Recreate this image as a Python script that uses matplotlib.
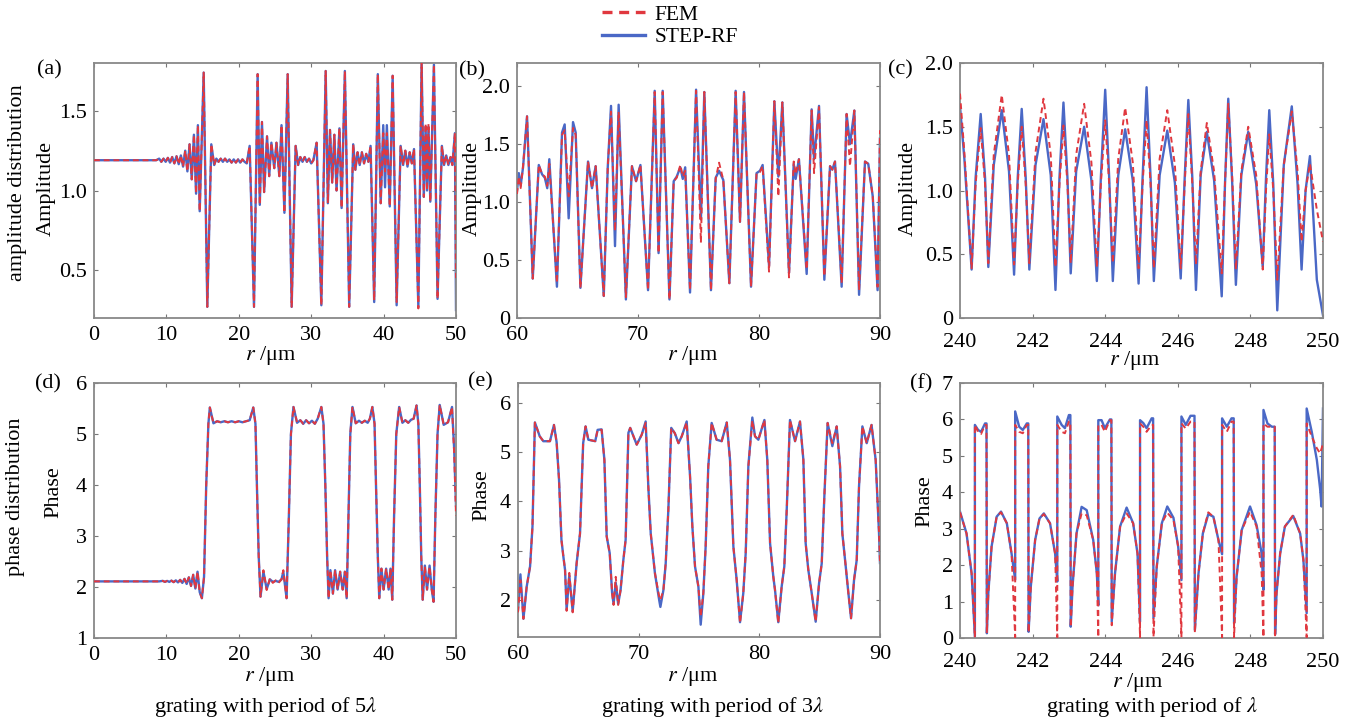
import matplotlib
matplotlib.use("Agg")
import matplotlib.pyplot as plt
from matplotlib.lines import Line2D

plt.rcParams["font.family"] = ["Liberation Serif", "DejaVu Serif"]
plt.rcParams["mathtext.fontset"] = "stix"

# --- data (r in um) ---
# (a) amplitude, grating period 5 lambda
a_r = [0.0, 8.6, 9.0, 9.3, 9.6, 9.9, 10.2, 10.5, 10.8, 11.1,
       11.4, 11.7, 12.0, 12.3, 12.6, 12.9, 13.2, 13.5, 13.8, 14.1,
       14.35, 14.6, 15.15, 15.65, 16.2, 16.6, 16.9, 17.2, 17.5, 17.8,
       18.1, 18.4, 18.7, 19.0, 19.3, 19.6, 19.9, 20.2, 20.5, 20.8,
       21.1, 21.5, 22.1, 22.6, 22.9, 23.2, 23.5, 23.9, 24.2, 24.5,
       24.9, 25.2, 25.6, 25.9, 26.3, 26.75, 27.3, 27.85, 28.2, 28.5,
       28.8, 29.1, 29.4, 29.7, 30.0, 30.3, 30.75, 31.4, 32.0, 32.3,
       32.6, 32.9, 33.2, 33.5, 33.9, 34.2, 34.65, 35.25, 35.8, 36.1,
       36.4, 36.7, 37.0, 37.3, 37.6, 37.9, 38.2, 38.7, 39.2, 39.6,
       39.95, 40.2, 40.45, 40.85, 41.25, 41.8, 42.35, 42.7, 43.0, 43.3,
       43.6, 43.9, 44.2, 44.8, 45.25, 45.55, 45.8, 46.0, 46.2, 46.45,
       46.95, 47.45, 48.05, 48.35, 48.65, 48.95, 49.25, 49.5, 49.85, 50.0]
a_fem = [1.19, 1.19, 1.20, 1.18, 1.20, 1.18, 1.205, 1.175, 1.21, 1.17,
         1.215, 1.165, 1.22, 1.15, 1.25, 1.12, 1.29, 1.07, 1.35, 0.98,
         1.41, 0.87, 1.74, 0.27, 1.29, 1.16, 1.20, 1.18, 1.20, 1.18,
         1.20, 1.18, 1.195, 1.175, 1.195, 1.175, 1.195, 1.175, 1.195, 1.18,
         1.17, 1.28, 0.27, 1.73, 0.91, 1.43, 0.99, 1.34, 1.09, 1.30,
         1.14, 1.30, 1.09, 1.41, 0.86, 1.73, 0.27, 1.28, 1.16, 1.21,
         1.18, 1.21, 1.18, 1.20, 1.17, 1.19, 1.30, 0.28, 1.75, 0.92,
         1.38, 1.05, 1.35, 1.00, 1.39, 0.89, 1.75, 0.27, 1.29, 1.13,
         1.24, 1.16, 1.24, 1.17, 1.23, 1.18, 1.28, 0.31, 1.73, 0.92,
         1.36, 1.12, 1.36, 0.90, 1.72, 0.30, 1.28, 1.16, 1.25, 1.15,
         1.24, 1.17, 1.26, 0.26, 1.80, 0.96, 1.42, 1.00, 1.42, 0.93,
         1.79, 0.32, 1.28, 1.16, 1.22, 1.16, 1.21, 1.16, 1.36, 0.45]
a_step = [1.19, 1.19, 1.20, 1.18, 1.20, 1.18, 1.205, 1.175, 1.21, 1.17,
          1.215, 1.165, 1.22, 1.15, 1.25, 1.12, 1.29, 1.07, 1.35, 0.98,
          1.41, 0.87, 1.74, 0.27, 1.29, 1.16, 1.20, 1.18, 1.20, 1.18,
          1.20, 1.18, 1.195, 1.175, 1.195, 1.175, 1.195, 1.175, 1.195, 1.18,
          1.17, 1.28, 0.27, 1.73, 0.91, 1.43, 0.99, 1.34, 1.09, 1.30,
          1.14, 1.30, 1.09, 1.41, 0.86, 1.73, 0.27, 1.28, 1.16, 1.21,
          1.18, 1.21, 1.18, 1.20, 1.17, 1.19, 1.30, 0.28, 1.75, 0.92,
          1.38, 1.05, 1.35, 1.00, 1.39, 0.89, 1.75, 0.27, 1.29, 1.13,
          1.24, 1.16, 1.24, 1.17, 1.23, 1.18, 1.28, 0.30, 1.73, 0.92,
          1.41, 1.02, 1.41, 0.90, 1.72, 0.28, 1.28, 1.16, 1.25, 1.15,
          1.24, 1.17, 1.26, 0.27, 1.80, 0.96, 1.40, 1.00, 1.40, 0.93,
          1.79, 0.32, 1.28, 1.16, 1.22, 1.16, 1.21, 1.16, 1.36, 0.25]

# (b) amplitude, grating period 3 lambda
b_r = [60.0, 60.15, 60.3, 60.5, 60.83, 61.3, 61.8, 62.07, 62.3, 62.5,
       62.67, 63.3, 63.72, 63.94, 64.27, 64.63, 64.85, 65.24, 65.87, 66.2,
       66.5, 67.17, 67.5, 67.77, 68.1, 68.4, 69.0, 69.5, 69.84, 70.2,
       70.83, 71.38, 71.7, 72.04, 72.6, 72.95, 73.2, 73.5, 73.7, 73.9,
       74.3, 74.8, 75.2, 75.48, 76.03, 76.42, 76.7, 77.05, 77.55, 78.07,
       78.43, 78.76, 79.34, 79.8, 80.08, 80.3, 80.83, 81.27, 81.6, 81.93,
       82.48, 82.87, 83.03, 83.3, 83.94, 84.35, 84.55, 84.96, 85.4, 85.87,
       86.06, 86.28, 86.83, 87.24, 87.52, 87.88, 88.27, 88.76, 89.03, 89.4,
       89.8, 90.0]
b_fem = [1.07, 1.22, 1.12, 1.31, 1.74, 0.34, 1.32, 1.24, 1.22, 1.14,
         1.33, 0.30, 1.58, 1.62, 1.05, 1.64, 1.58, 0.26, 1.35, 1.12,
         1.31, 0.19, 1.30, 1.78, 0.75, 1.78, 0.18, 1.31, 1.18, 1.32,
         0.24, 1.95, 0.56, 1.95, 0.16, 1.18, 1.21, 1.32, 1.22, 1.27,
         0.24, 1.96, 0.65, 1.95, 0.24, 1.20, 1.34, 1.19, 0.30, 1.95,
         0.83, 1.95, 0.27, 1.25, 1.26, 1.31, 0.40, 1.87, 1.05, 1.86,
         0.35, 1.35, 1.24, 1.37, 0.42, 1.79, 1.25, 1.82, 0.36, 1.31,
         1.28, 1.35, 0.30, 1.76, 1.31, 1.79, 0.24, 1.35, 1.33, 1.05,
         0.27, 1.62]
b_step = [1.10, 1.25, 1.14, 1.30, 1.74, 0.34, 1.32, 1.24, 1.21, 1.12,
          1.37, 0.27, 1.60, 1.67, 0.86, 1.69, 1.60, 0.26, 1.35, 1.12,
          1.31, 0.19, 1.30, 1.83, 0.62, 1.84, 0.16, 1.31, 1.18, 1.32,
          0.24, 1.96, 0.56, 1.96, 0.16, 1.18, 1.22, 1.30, 1.20, 1.30,
          0.22, 1.97, 0.85, 1.95, 0.24, 1.21, 1.27, 1.19, 0.30, 1.96,
          0.83, 1.95, 0.27, 1.25, 1.27, 1.32, 0.45, 1.87, 1.22, 1.86,
          0.39, 1.33, 1.20, 1.37, 0.38, 1.80, 1.37, 1.83, 0.33, 1.31,
          1.28, 1.35, 0.27, 1.76, 1.50, 1.79, 0.20, 1.35, 1.33, 1.05,
          0.24, 1.55]

# (c) amplitude, grating period lambda
c_r = [240.00, 240.12, 240.32, 240.43, 240.57, 240.69, 240.78, 240.93, 241.15, 241.35,
       241.49, 241.59, 241.70, 241.81, 241.91, 242.08, 242.30, 242.50, 242.63, 242.74,
       242.85, 242.96, 243.05, 243.20, 243.42, 243.62, 243.77, 243.88, 244.00, 244.11,
       244.21, 244.36, 244.55, 244.76, 244.92, 245.03, 245.14, 245.25, 245.34, 245.50,
       245.71, 245.92, 246.08, 246.19, 246.29, 246.40, 246.50, 246.63, 246.80, 247.00,
       247.21, 247.30, 247.39, 247.50, 247.60, 247.75, 247.94, 248.16, 248.34, 248.43,
       248.52, 248.63, 248.74, 248.92, 249.14, 249.30, 249.41, 249.52, 249.64, 249.83,
       250.00]
c_fem = [1.76, 1.30, 0.39, 1.05, 1.49, 1.05, 0.43, 1.28, 1.75, 1.28,
         0.42, 1.05, 1.50, 1.05, 0.43, 1.30, 1.72, 1.28, 0.40, 1.05,
         1.51, 1.05, 0.43, 1.28, 1.68, 1.22, 0.40, 1.05, 1.55, 1.05,
         0.43, 1.25, 1.65, 1.22, 0.39, 1.05, 1.55, 1.05, 0.39, 1.25,
         1.63, 1.20, 0.39, 1.05, 1.60, 1.05, 0.42, 1.15, 1.53, 1.15,
         0.35, 1.05, 1.68, 1.10, 0.38, 1.15, 1.50, 1.12, 0.38, 1.00,
         1.44, 1.00, 0.30, 1.20, 1.62, 1.15, 0.60, 1.00, 1.21, 0.85,
         0.60]
c_step = [1.66, 1.25, 0.38, 1.10, 1.60, 1.10, 0.40, 1.20, 1.63, 1.15,
          0.34, 1.10, 1.64, 1.10, 0.38, 1.20, 1.56, 1.12, 0.22, 1.10,
          1.69, 1.10, 0.35, 1.15, 1.50, 1.08, 0.29, 1.10, 1.79, 1.10,
          0.29, 1.12, 1.48, 1.08, 0.27, 1.10, 1.81, 1.10, 0.29, 1.12,
          1.47, 1.06, 0.31, 1.10, 1.71, 1.10, 0.22, 1.12, 1.46, 1.08,
          0.17, 1.05, 1.72, 1.05, 0.26, 1.12, 1.46, 1.05, 0.40, 1.10,
          1.63, 1.05, 0.06, 1.20, 1.66, 1.05, 0.38, 1.00, 1.27, 0.30,
          0.02]

# (d) phase, grating period 5 lambda
d_r = [0.0, 9.0, 9.5, 9.8, 10.1, 10.4, 10.7, 11.0, 11.3, 11.6,
       11.9, 12.2, 12.5, 12.8, 13.1, 13.4, 13.7, 14.0, 14.3, 14.6,
       14.9, 15.2, 15.5, 15.8, 16.0, 16.5, 17.0, 17.5, 18.0, 18.5,
       19.0, 19.5, 20.0, 20.5, 21.0, 21.5, 22.0, 22.3, 22.5, 22.75,
       23.0, 23.4, 23.85, 24.3, 24.7, 25.1, 25.5, 25.9, 26.15, 26.6,
       26.9, 27.2, 27.55, 28.05, 28.5, 28.9, 29.3, 29.7, 30.1, 30.5,
       30.9, 31.4, 31.7, 31.95, 32.2, 32.4, 32.65, 33.0, 33.3, 33.65,
       34.0, 34.35, 34.65, 34.9, 35.15, 35.4, 35.7, 36.15, 36.6, 37.0,
       37.4, 37.8, 38.1, 38.45, 38.75, 38.95, 39.2, 39.4, 39.7, 40.0,
       40.35, 40.7, 40.95, 41.2, 41.45, 41.75, 42.15, 42.6, 43.0, 43.4,
       43.8, 44.15, 44.55, 44.8, 45.0, 45.2, 45.4, 45.7, 46.0, 46.35,
       46.65, 46.9, 47.15, 47.45, 47.75, 48.3, 48.9, 49.45, 49.75, 50.0]
d_fem = [2.11, 2.11, 2.12, 2.10, 2.12, 2.10, 2.125, 2.095, 2.13, 2.09,
         2.14, 2.08, 2.16, 2.06, 2.19, 2.02, 2.24, 1.97, 2.30, 1.90,
         1.78, 2.20, 4.00, 5.20, 5.52, 5.21, 5.25, 5.23, 5.25, 5.23,
         5.25, 5.23, 5.25, 5.23, 5.25, 5.27, 5.52, 5.20, 4.00, 2.60,
         1.81, 2.33, 1.94, 2.17, 2.08, 2.13, 2.08, 2.15, 2.33, 1.78,
         3.30, 5.00, 5.53, 5.22, 5.27, 5.20, 5.27, 5.21, 5.26, 5.20,
         5.30, 5.53, 5.20, 4.00, 2.60, 1.78, 2.33, 1.87, 2.33, 1.95,
         2.30, 1.95, 2.30, 1.78, 3.40, 5.00, 5.53, 5.21, 5.26, 5.22,
         5.26, 5.22, 5.30, 5.53, 5.20, 4.00, 2.60, 1.78, 2.36, 1.95,
         2.36, 1.95, 2.36, 1.75, 3.40, 5.00, 5.53, 5.22, 5.27, 5.22,
         5.28, 5.30, 5.56, 5.20, 4.00, 2.60, 1.75, 2.40, 1.95, 2.40,
         1.95, 1.71, 3.40, 5.00, 5.57, 5.18, 5.23, 5.53, 4.60, 3.40]
d_step = [2.11, 2.11, 2.12, 2.10, 2.12, 2.10, 2.125, 2.095, 2.13, 2.09,
          2.14, 2.08, 2.16, 2.06, 2.19, 2.02, 2.24, 1.97, 2.30, 1.90,
          1.78, 2.20, 4.00, 5.20, 5.52, 5.21, 5.25, 5.23, 5.25, 5.23,
          5.25, 5.23, 5.25, 5.23, 5.25, 5.27, 5.52, 5.20, 4.00, 2.60,
          1.81, 2.30, 1.96, 2.15, 2.10, 2.12, 2.10, 2.15, 2.30, 1.78,
          3.30, 5.00, 5.53, 5.22, 5.27, 5.20, 5.27, 5.21, 5.26, 5.20,
          5.30, 5.53, 5.20, 4.00, 2.60, 1.78, 2.33, 1.87, 2.33, 1.95,
          2.30, 1.95, 2.30, 1.78, 3.40, 5.00, 5.53, 5.21, 5.26, 5.22,
          5.26, 5.22, 5.30, 5.53, 5.20, 4.00, 2.60, 1.78, 2.36, 1.95,
          2.36, 1.95, 2.36, 1.75, 3.40, 5.00, 5.53, 5.22, 5.27, 5.22,
          5.28, 5.30, 5.56, 5.20, 4.00, 2.60, 1.75, 2.42, 1.95, 2.42,
          1.95, 1.71, 3.40, 5.00, 5.57, 5.18, 5.23, 5.53, 4.70, 3.60]

# (e) phase, grating period 3 lambda
e_r = [60.0, 60.2, 60.45, 60.72, 61.0, 61.2, 61.4, 61.8, 62.1, 62.65,
       62.98, 63.2, 63.4, 63.6, 63.76, 63.9, 64.03, 64.25, 64.53, 64.86,
       65.14, 65.4, 65.6, 65.83, 66.4, 66.6, 66.93, 67.16, 67.35, 67.6,
       67.8, 67.92, 68.1, 68.3, 68.5, 68.73, 68.92, 69.15, 69.3, 69.84,
       70.25, 70.58, 70.8, 71.0, 71.35, 71.7, 71.8, 72.05, 72.24, 72.46,
       72.7, 73.0, 73.3, 73.57, 73.98, 74.26, 74.45, 74.67, 74.95, 75.14,
       75.36, 75.55, 75.77, 76.05, 76.46, 76.88, 77.3, 77.57, 77.85, 78.12,
       78.4, 78.67, 78.87, 79.09, 79.42, 79.64, 79.92, 80.42, 80.66, 80.89,
       81.16, 81.3, 81.57, 81.85, 82.07, 82.27, 82.54, 82.96, 83.37, 83.65,
       83.84, 84.06, 84.34, 84.67, 84.95, 85.17, 85.4, 85.66, 86.05, 86.41,
       86.69, 86.88, 87.16, 87.38, 87.6, 87.85, 88.07, 88.26, 88.54, 88.9,
       89.3, 89.64, 89.92, 90.0]
e_fem = [1.75, 2.40, 1.62, 2.27, 2.68, 3.49, 5.60, 5.32, 5.22, 5.22,
         5.55, 5.20, 4.44, 3.22, 2.88, 2.61, 1.78, 2.55, 1.75, 2.75,
         3.35, 5.18, 5.52, 5.25, 5.22, 5.45, 5.45, 4.84, 3.29, 2.95,
         2.14, 1.90, 2.47, 1.90, 2.20, 2.81, 3.22, 5.39, 5.49, 5.15,
         5.35, 5.59, 4.30, 3.35, 2.54, 2.07, 2.00, 2.20, 2.74, 3.83,
         5.49, 5.38, 5.18, 5.32, 5.60, 4.50, 3.49, 2.68, 2.27, 1.66,
         2.14, 3.08, 4.71, 5.59, 5.25, 5.22, 5.60, 4.84, 3.08, 2.41,
         1.53, 2.14, 2.95, 4.71, 5.64, 5.32, 5.25, 5.65, 4.84, 3.15,
         2.47, 2.20, 1.53, 2.27, 2.68, 3.83, 5.65, 5.22, 5.62, 4.84,
         3.15, 2.61, 2.14, 1.56, 2.34, 2.74, 4.17, 5.59, 5.18, 5.52,
         4.71, 3.35, 2.68, 2.14, 1.63, 2.41, 2.81, 4.30, 5.52, 5.18,
         5.55, 4.84, 3.35, 2.75]
e_step = [1.80, 2.52, 1.62, 2.27, 2.68, 3.49, 5.60, 5.32, 5.22, 5.22,
          5.55, 5.20, 4.44, 3.22, 2.88, 2.61, 1.80, 2.50, 1.77, 2.75,
          3.35, 5.18, 5.52, 5.25, 5.22, 5.45, 5.46, 4.84, 3.29, 2.95,
          2.14, 1.92, 2.35, 1.92, 2.20, 2.81, 3.22, 5.39, 5.49, 5.15,
          5.35, 5.62, 4.30, 3.35, 2.54, 2.00, 1.86, 2.20, 2.74, 3.83,
          5.49, 5.38, 5.18, 5.32, 5.62, 4.50, 3.49, 2.68, 2.27, 1.50,
          2.14, 3.08, 4.71, 5.59, 5.25, 5.22, 5.60, 4.84, 3.08, 2.41,
          1.55, 2.14, 2.95, 4.71, 5.70, 5.32, 5.25, 5.65, 4.84, 3.15,
          2.47, 2.20, 1.55, 2.27, 2.68, 3.83, 5.65, 5.22, 5.62, 4.84,
          3.15, 2.61, 2.14, 1.56, 2.34, 2.74, 4.17, 5.59, 5.12, 5.52,
          4.71, 3.35, 2.68, 2.14, 1.63, 2.41, 2.81, 4.30, 5.52, 5.18,
          5.55, 4.84, 3.35, 2.75]

# (f) phase, grating period lambda
f_r = [240.00, 240.18, 240.32, 240.41, 240.41, 240.50, 240.58, 240.69, 240.73, 240.74,
       240.78, 240.87, 241.01, 241.13, 241.29, 241.42, 241.52, 241.52, 241.63, 241.73,
       241.84, 241.88, 241.89, 241.95, 242.07, 242.19, 242.31, 242.48, 242.62, 242.68,
       242.68, 242.80, 242.89, 243.00, 243.04, 243.05, 243.10, 243.21, 243.35, 243.49,
       243.67, 243.77, 243.81, 243.81, 243.90, 243.99, 244.13, 244.17, 244.18, 244.27,
       244.41, 244.59, 244.77, 244.89, 244.96, 244.96, 245.05, 245.14, 245.28, 245.32,
       245.33, 245.42, 245.56, 245.71, 245.88, 246.01, 246.10, 246.10, 246.22, 246.35,
       246.46, 246.47, 246.57, 246.69, 246.84, 246.98, 247.12, 247.22, 247.22, 247.35,
       247.48, 247.54, 247.55, 247.62, 247.76, 247.99, 248.17, 248.31, 248.36, 248.36,
       248.47, 248.59, 248.67, 248.68, 248.72, 248.82, 248.95, 249.18, 249.37, 249.46,
       249.55, 249.55, 249.69, 249.83, 249.92, 249.96, 250.00]
f_fem = [3.45, 2.87, 1.77, 0.02, 5.85, 5.65, 5.60, 5.85, 5.85, 0.13,
         1.23, 2.51, 3.33, 3.45, 3.15, 2.32, 0.02, 5.85, 5.66, 5.62,
         5.85, 5.85, 0.15, 1.41, 2.69, 3.28, 3.40, 3.15, 2.32, 0.02,
         5.85, 5.66, 5.62, 5.94, 5.94, 0.30, 1.41, 2.87, 3.42, 3.37,
         2.69, 1.77, 0.02, 5.85, 5.85, 5.66, 5.98, 5.98, 0.35, 1.77,
         3.06, 3.42, 3.15, 2.32, 0.02, 5.89, 5.80, 5.66, 5.85, 5.85,
         0.03, 1.96, 3.15, 3.44, 3.24, 2.51, 0.02, 5.89, 5.75, 5.94,
         5.94, 0.15, 1.77, 2.87, 3.45, 3.33, 2.69, 0.02, 5.85, 5.66,
         5.94, 5.94, 0.02, 1.68, 2.96, 3.47, 3.06, 1.77, 0.02, 5.89,
         5.80, 5.80, 5.80, 0.02, 1.23, 2.32, 3.06, 3.38, 2.87, 2.14,
         0.02, 5.89, 5.53, 5.21, 5.07, 5.20, 5.34]
f_step = [3.47, 2.87, 1.77, 0.04, 5.85, 5.71, 5.66, 5.89, 5.89, 0.13,
          1.23, 2.51, 3.33, 3.47, 3.15, 2.32, 1.60, 6.22, 5.80, 5.71,
          5.89, 5.89, 0.17, 1.41, 2.69, 3.28, 3.42, 3.15, 2.32, 1.55,
          6.08, 5.85, 5.76, 6.12, 6.12, 0.31, 1.41, 2.87, 3.60, 3.51,
          2.69, 1.77, 0.90, 5.98, 5.98, 5.76, 6.00, 6.00, 0.45, 1.77,
          3.06, 3.58, 3.15, 2.32, 0.45, 5.98, 5.90, 5.76, 6.03, 6.03,
          0.55, 1.96, 3.15, 3.61, 3.30, 2.51, 1.59, 6.08, 5.85, 6.10,
          6.10, 0.22, 1.77, 2.87, 3.40, 3.33, 2.69, 2.30, 6.03, 5.80,
          6.03, 6.03, 0.40, 1.68, 2.96, 3.61, 3.10, 2.32, 1.32, 6.26,
          5.89, 5.80, 5.80, 0.10, 1.23, 2.32, 3.06, 3.35, 2.87, 2.14,
          0.68, 6.30, 5.66, 4.89, 4.10, 3.61, 6.30]

# tick values / labels
amp_ticks_a = [0.5, 1.0, 1.5]
amp_labels_a = ["0.5", "1.0", "1.5"]
amp_ticks = [0, 0.5, 1.0, 1.5, 2.0]
amp_labels = ["0", "0.5", "1.0", "1.5", "2.0"]
captions = ["grating with period of 5$\\lambda$", "grating with period of 3$\\lambda$",
            "grating with period of $\\lambda$"]

RED = "#e0383f"
BLUE = "#4a68c6"
W, H = 1354, 722
FS = 16


def px_rect(l, t, r, b):
    return [l / W, 1 - b / H, (r - l) / W, (b - t) / H]


def ftext(x, y, s, **kw):
    fig.text(x / W, 1 - y / H, s, ha="center", va="center", fontsize=FS, **kw)


def draw(ax, r, fem, step, xlim, ylim, xticks, yticks, ylabels=None, xpad=6):
    ax.plot(r, step, color=BLUE, lw=1.7, zorder=2)
    ax.plot(r, fem, color=RED, lw=1.4, ls=(0, (3, 2)), zorder=3)
    ax.set_xlim(*xlim)
    ax.set_ylim(*ylim)
    ax.set_xticks(xticks)
    ax.set_yticks(yticks)
    if ylabels is not None:
        ax.set_yticklabels(ylabels)
    ax.tick_params(direction="in", length=3, width=0.8, labelsize=FS,
                   top=True, right=True, colors="#777777", labelcolor="black")
    ax.tick_params(axis="x", pad=xpad)
    ax.tick_params(axis="y", pad=5)
    for sp in ax.spines.values():
        sp.set_color("#888888")
        sp.set_linewidth(1.3)


fig = plt.figure(figsize=(W / 100, H / 100), dpi=100)

ax_a = fig.add_axes(px_rect(94, 63, 456, 318))
draw(ax_a, a_r, a_fem, a_step, (0, 50), (0.2, 1.8), [0, 10, 20, 30, 40, 50], amp_ticks_a, amp_labels_a)
ax_b = fig.add_axes(px_rect(517, 63, 880, 318))
draw(ax_b, b_r, b_fem, b_step, (60, 90), (0, 2.2), [60, 70, 80, 90], amp_ticks, amp_labels)
ax_c = fig.add_axes(px_rect(960, 63, 1323, 318))
draw(ax_c, c_r, c_fem, c_step, (240, 250), (0, 2.0), [240, 242, 244, 246, 248, 250],
     amp_ticks, amp_labels, xpad=11)
ax_d = fig.add_axes(px_rect(94, 383, 456, 638))
draw(ax_d, d_r, d_fem, d_step, (0, 50), (1, 6), [0, 10, 20, 30, 40, 50], [1, 2, 3, 4, 5, 6])
ax_e = fig.add_axes(px_rect(518, 383, 880, 637))
draw(ax_e, e_r, e_fem, e_step, (60, 90), (1.25, 6.4), [60, 70, 80, 90], [2, 3, 4, 5, 6])
ax_f = fig.add_axes(px_rect(960, 383, 1323, 638))
draw(ax_f, f_r, f_fem, f_step, (240, 250), (0, 7), [240, 242, 244, 246, 248, 250],
     [0, 1, 2, 3, 4, 5, 6, 7], xpad=11)

# panel letters
for (x, y, s) in [(49, 70, "(a)"), (472, 71, "(b)"), (900, 70, "(c)"),
                  (48, 384, "(d)"), (480, 382, "(e)"), (921, 384, "(f)")]:
    ftext(x, y, s)

# y labels
ftext(18, 183, "amplitude distribution", rotation=90)
ftext(16, 497, "phase distribution", rotation=90)
ftext(46, 188, "Amplitude", rotation=90)
ftext(472, 188, "Amplitude", rotation=90)
ftext(908, 188, "Amplitude", rotation=90)
ftext(54, 492, "Phase", rotation=90)
ftext(482, 495, "Phase", rotation=90)
ftext(925, 501, "Phase", rotation=90)

# x labels
ftext(271, 356, "$r$ /μm")
ftext(693, 356, "$r$ /μm")
ftext(1135, 361, "$r$ /μm")
ftext(270, 677, "$r$ /μm")
ftext(693, 677, "$r$ /μm")
ftext(1138, 682, "$r$ /μm")

# captions
for x, s in zip([265, 712, 1152], captions):
    ftext(x, 707, s)

handles = [Line2D([], [], color=RED, lw=2.4, ls=(0, (3, 2))),
           Line2D([], [], color=BLUE, lw=2.4)]
fig.legend(handles, ["FEM", "STEP-RF"], loc="upper left",
           bbox_to_anchor=(590 / W, 1.0 + 7 / H), frameon=False, fontsize=15.5,
           handlelength=2.0, handletextpad=0.45, labelspacing=0.1, borderpad=0.05)

fig.savefig("out.png", dpi=100)
